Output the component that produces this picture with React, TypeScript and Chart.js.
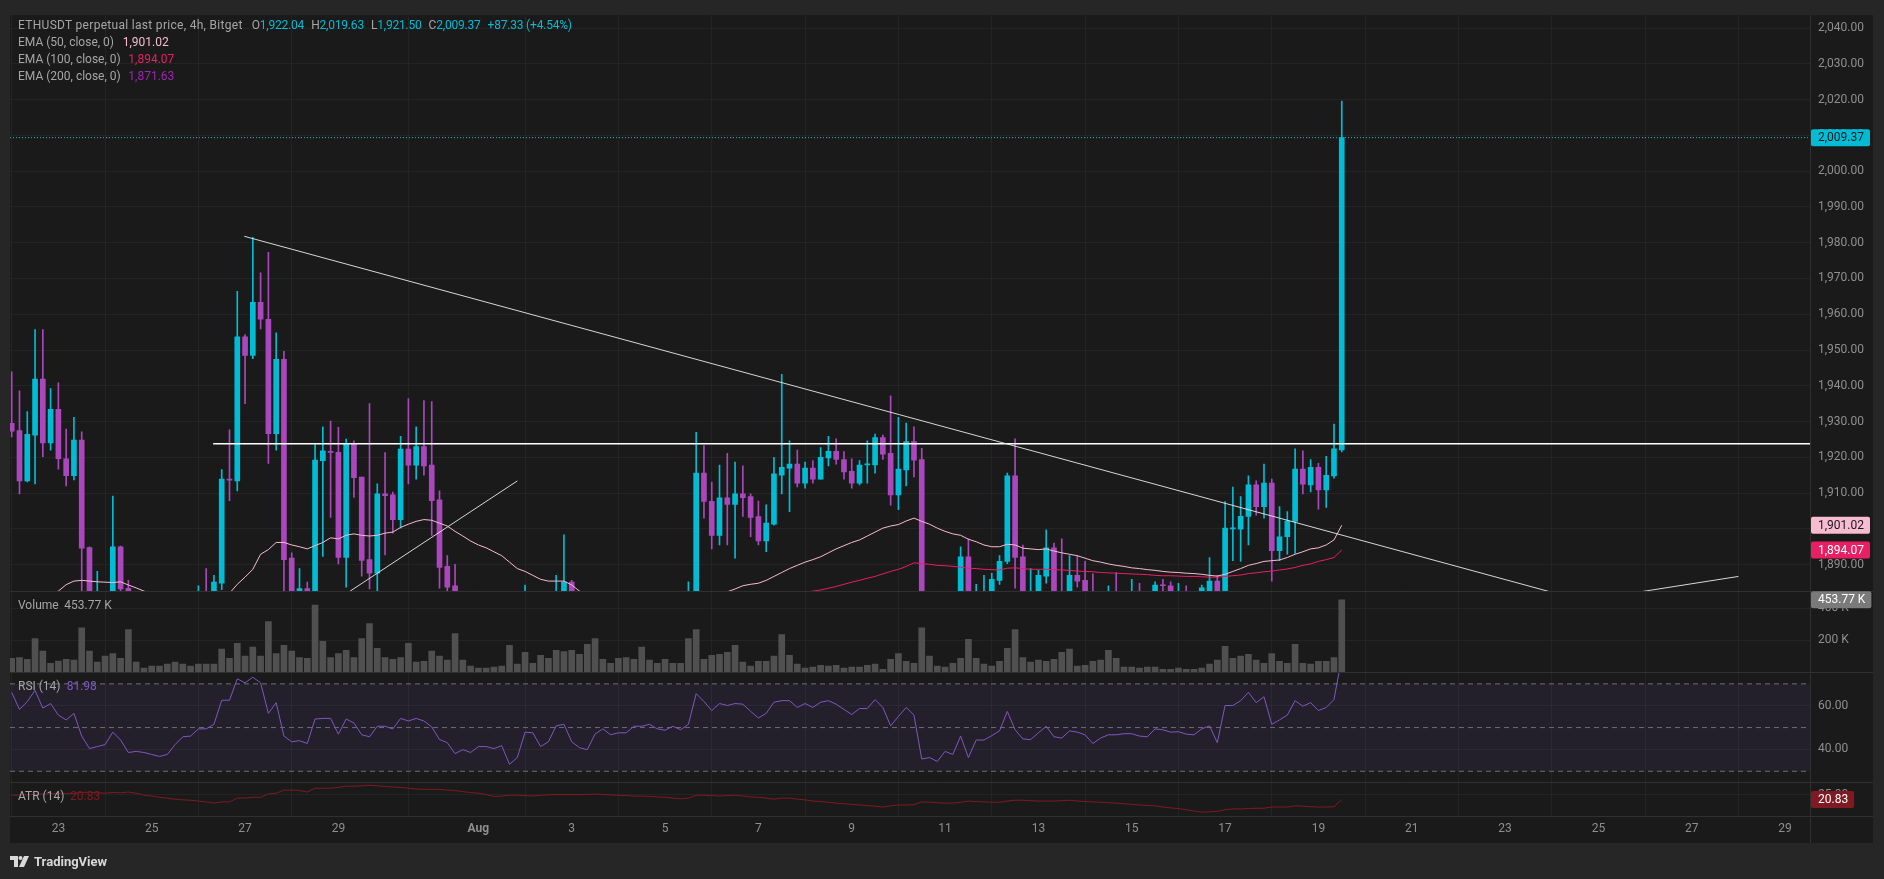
import React, { useEffect, useRef } from "react";
import { Chart, registerables } from "chart.js";

Chart.register(...registerables);

// ETHUSDT perpetual, 4h candles. Bar 0 = 22 Jul 2023 00:00, one bar every 4 hours.
const OPEN = [
  1929.5, 1927.5, 1913.4, 1926.2, 1941.9, 1924.0, 1933.4, 1919.6, 1914.9, 1924.8,
  1894.8, 1871.0, 1880.0, 1870.0, 1895.0, 1883.4, 1876, 1872, 1866, 1870,
  1865, 1862, 1869, 1874, 1876, 1879, 1877, 1884.8, 1913.9, 1913.4,
  1953.7, 1948.5, 1963.3, 1958.6, 1926.6, 1947.4, 1891.8, 1878.0, 1883.3, 1880.0,
  1919.1, 1921.7, 1921.4, 1892.0, 1923.8, 1914.5, 1891.4, 1887.6, 1909.8, 1909.5,
  1902.6, 1922.3, 1917.8, 1923.0, 1917.8, 1908.1, 1889.5, 1884.1, 1872, 1864,
  1856, 1848, 1853, 1860, 1856, 1838, 1844, 1872, 1870, 1858,
  1864, 1876, 1885.1, 1872, 1864, 1856, 1868, 1872, 1868, 1870,
  1871, 1874, 1875, 1876, 1873, 1872, 1876, 1874, 1879, 1915.6,
  1907.7, 1898.2, 1908.7, 1906.8, 1909.8, 1909.0, 1903.4, 1896.6, 1901.3, 1915.0,
  1917.0, 1918.1, 1912.8, 1917.0, 1913.9, 1919.8, 1921.7, 1919.4, 1916.1, 1912.8,
  1917.9, 1917.9, 1925.5, 1921.1, 1909.5, 1916.5, 1924.4, 1919.4, 1855, 1852,
  1849, 1856, 1853, 1892.2, 1856, 1868, 1870, 1885.6, 1890.9, 1914.8,
  1892.2, 1876, 1880, 1886.8, 1894.7, 1876, 1874, 1887.0, 1885.6, 1878,
  1874, 1876, 1878, 1877, 1878, 1879, 1876, 1878, 1884.3, 1884.1,
  1879, 1880, 1877, 1878, 1882.0, 1885.4, 1872, 1900.0, 1899.9, 1903.5,
  1912.3, 1906.2, 1912.8, 1893.9, 1897.8, 1902.1, 1916.7, 1912.3, 1917.2, 1910.9,
  1914.8, 1922.04,
];
const HIGH = [
  1943.9, 1938.6, 1932.8, 1955.7, 1955.7, 1939.2, 1940.8, 1927.9, 1931.2, 1927.1,
  1895.0, 1888.1, 1881.5, 1909.2, 1895.2, 1885.6, 1881, 1878, 1874, 1876,
  1871, 1872, 1878, 1880, 1884.1, 1888.9, 1887.0, 1916.6, 1927.7, 1966.4,
  1954.3, 1981.5, 1971.6, 1977.3, 1954.8, 1949.6, 1893.3, 1888.9, 1885.1, 1923.8,
  1928.5, 1930.1, 1928.4, 1925.1, 1924.6, 1914.5, 1935.0, 1912.6, 1921.3, 1910.3,
  1925.9, 1936.4, 1928.5, 1935.9, 1935.6, 1910.6, 1892.5, 1890.1, 1878, 1870,
  1862, 1858, 1866, 1868, 1860, 1848, 1884.3, 1878, 1874, 1868,
  1887.0, 1898.3, 1885.6, 1876, 1868, 1872, 1876, 1876, 1874, 1876,
  1878, 1880, 1880, 1880, 1878, 1880, 1880, 1885.2, 1927.0, 1923.3,
  1913.1, 1917.8, 1921.1, 1918.7, 1917.6, 1909.8, 1907.8, 1906.7, 1920.0, 1943.2,
  1924.6, 1922.0, 1918.7, 1919.1, 1922.7, 1925.9, 1925.2, 1921.6, 1919.6, 1919.1,
  1924.6, 1926.5, 1926.2, 1937.2, 1931.2, 1929.6, 1928.5, 1922.5, 1862, 1858,
  1860, 1860, 1895.0, 1897.2, 1884.5, 1887.0, 1887.6, 1892.5, 1915.6, 1925.2,
  1895.5, 1888.9, 1888.5, 1899.7, 1896.0, 1897.2, 1892.5, 1892.5, 1890.9, 1887.4,
  1880, 1884.1, 1887.8, 1881, 1885.9, 1884.8, 1880, 1885.2, 1885.9, 1885.2,
  1884.8, 1884.1, 1881, 1884.3, 1892.0, 1887.0, 1907.6, 1911.7, 1909.0, 1914.8,
  1913.4, 1918.1, 1913.9, 1906.2, 1904.8, 1922.4, 1921.8, 1919.4, 1918.3, 1920.3,
  1929.3, 2019.63,
];
const LOW = [
  1925.7, 1909.8, 1913.1, 1912.6, 1920.2, 1922.0, 1916.7, 1912.0, 1913.7, 1878.0,
  1866.0, 1867.0, 1866.0, 1866.0, 1878.0, 1870.0, 1868, 1862, 1860, 1863,
  1858, 1860, 1866, 1869, 1872, 1874, 1874, 1883.0, 1907.9, 1910.6,
  1935.0, 1947.6, 1955.9, 1918.3, 1922.0, 1878.0, 1872.0, 1874.0, 1874.0, 1876.0,
  1892.3, 1903.2, 1890.2, 1883.7, 1908.8, 1886.8, 1883.2, 1880.0, 1892.7, 1898.8,
  1900.2, 1912.6, 1913.9, 1915.0, 1898.2, 1883.4, 1880.0, 1868.0, 1860, 1850,
  1842, 1840, 1848, 1852, 1825, 1830, 1840, 1862, 1852, 1854,
  1860, 1870, 1868, 1860, 1850, 1852, 1862, 1864, 1860, 1864,
  1866, 1868, 1870, 1870, 1868, 1868, 1870, 1870, 1876, 1903.0,
  1894.4, 1895.5, 1895.5, 1891.8, 1903.5, 1897.8, 1895.5, 1893.6, 1901.0, 1909.8,
  1904.8, 1911.7, 1911.4, 1912.8, 1913.9, 1917.6, 1918.1, 1913.9, 1911.4, 1912.3,
  1912.8, 1915.6, 1919.4, 1906.6, 1905.4, 1912.0, 1914.5, 1846, 1848, 1845,
  1846, 1850, 1850, 1850, 1852, 1864, 1866, 1884.5, 1890.3, 1883.4,
  1872, 1870, 1876, 1884.8, 1872, 1870, 1870, 1883.7, 1872, 1870,
  1868, 1872, 1872, 1872, 1874, 1872, 1872, 1874, 1878, 1876,
  1876, 1874, 1872, 1876, 1878, 1866, 1870, 1891.1, 1890.9, 1895.5,
  1903.8, 1903.0, 1885.4, 1891.1, 1892.9, 1893.1, 1909.8, 1910.3, 1905.5, 1906.0,
  1914.2, 1921.5,
];
const CLOSE = [
  1927.3, 1913.4, 1926.4, 1941.9, 1924.0, 1933.4, 1919.6, 1914.9, 1924.8, 1894.6,
  1871.0, 1880.0, 1870.0, 1895.0, 1883.2, 1876, 1872, 1866, 1870, 1865,
  1862, 1869, 1874, 1876, 1879, 1877, 1885.1, 1913.9, 1913.6, 1953.7,
  1948.5, 1963.3, 1958.6, 1926.6, 1947.4, 1891.4, 1878.0, 1883.3, 1880.0, 1919.2,
  1921.8, 1921.4, 1892.0, 1923.8, 1914.3, 1891.2, 1887.6, 1909.8, 1909.3, 1902.6,
  1922.3, 1917.8, 1923.0, 1917.6, 1907.9, 1889.2, 1883.7, 1872, 1864, 1856,
  1848, 1853, 1860, 1856, 1838, 1844, 1872, 1870, 1858, 1864,
  1876, 1885.1, 1872, 1864, 1856, 1868, 1872, 1868, 1870, 1871,
  1874, 1875, 1876, 1873, 1872, 1876, 1874, 1879, 1915.6, 1907.7,
  1898.2, 1908.7, 1906.8, 1909.8, 1908.7, 1903.2, 1896.6, 1901.6, 1915.4, 1917.2,
  1918.1, 1912.8, 1917.0, 1913.9, 1920.0, 1921.7, 1919.4, 1915.9, 1912.8, 1917.8,
  1918.1, 1925.5, 1920.9, 1909.5, 1916.7, 1924.4, 1919.2, 1855, 1852, 1849,
  1856, 1853, 1892.2, 1856, 1868, 1870, 1885.9, 1890.9, 1914.8, 1892.0,
  1878, 1880, 1887.0, 1894.7, 1876, 1874, 1887.0, 1885.4, 1878, 1874,
  1876, 1878, 1877, 1878, 1879, 1876, 1878, 1884.3, 1884.1, 1879,
  1880, 1877, 1878, 1883.5, 1885.4, 1872, 1900.2, 1900.3, 1903.5, 1912.3,
  1906.2, 1912.8, 1893.9, 1897.8, 1902.2, 1916.7, 1912.5, 1917.2, 1910.9, 1915.0,
  1922.4, 2009.37,
];
// volume in thousands
const VOLUME_K = [
  86, 91, 79, 210, 131, 54, 69, 79, 74, 277,
  131, 62, 99, 116, 86, 267, 62, 25, 37, 37,
  49, 62, 49, 37, 49, 49, 49, 143, 86, 180,
  99, 156, 99, 316, 116, 168, 131, 91, 86, 420,
  193, 91, 116, 136, 91, 210, 304, 148, 91, 79,
  91, 180, 62, 67, 131, 99, 74, 242, 74, 37,
  25, 25, 30, 37, 168, 49, 124, 54, 104, 86,
  136, 128, 136, 111, 173, 210, 79, 54, 86, 91,
  79, 156, 74, 54, 79, 54, 54, 210, 267, 79,
  104, 111, 124, 168, 62, 37, 67, 67, 99, 235,
  104, 49, 25, 30, 42, 37, 42, 25, 30, 30,
  42, 49, 17, 79, 116, 67, 54, 277, 99, 37,
  30, 54, 86, 205, 86, 49, 37, 67, 148, 267,
  91, 62, 74, 67, 79, 124, 143, 37, 42, 67,
  74, 136, 86, 30, 30, 25, 30, 30, 17, 17,
  25, 17, 17, 25, 49, 74, 161, 86, 99, 111,
  74, 54, 116, 67, 54, 173, 54, 49, 67, 67,
  91, 453.77,
];
const RSI14 = [
  66.1, 58.3, 61.9, 67.0, 58.9, 61.0, 55.7, 53.5, 56.5, 46.1,
  40.4, 41.3, 42.2, 47.9, 44.3, 38.6, 39.1, 38.6, 37.7, 36.8,
  37.7, 42.2, 45.8, 46.1, 49.4, 49.4, 51.5, 62.5, 62.5, 72.3,
  70.5, 73.0, 70.5, 56.5, 61.4, 46.1, 43.5, 44.0, 42.7, 53.9,
  54.2, 54.2, 47.0, 53.9, 52.1, 46.7, 45.8, 50.6, 50.6, 49.4,
  54.2, 53.0, 54.2, 53.0, 50.3, 44.5, 43.1, 38.1, 39.9, 38.6,
  41.3, 41.3, 40.4, 41.7, 33.2, 36.3, 47.9, 47.6, 41.3, 43.5,
  50.8, 51.5, 43.5, 40.8, 39.9, 47.0, 49.4, 46.7, 47.6, 47.6,
  50.6, 50.6, 51.5, 49.4, 48.8, 50.6, 49.0, 51.5, 65.5, 61.9,
  57.8, 61.0, 60.1, 61.0, 60.7, 57.4, 54.4, 56.5, 61.6, 62.3,
  62.3, 59.2, 61.0, 59.2, 61.6, 62.3, 60.7, 58.3, 56.0, 58.7,
  58.7, 62.8, 59.2, 50.8, 55.1, 59.2, 55.7, 35.6, 36.3, 34.5,
  39.1, 37.7, 46.1, 36.3, 44.3, 44.3, 46.3, 48.5, 57.4, 49.0,
  44.8, 44.5, 47.6, 50.6, 45.8, 45.2, 48.5, 47.9, 46.7, 42.7,
  45.2, 46.7, 46.7, 47.2, 47.2, 46.1, 45.8, 49.4, 49.0, 47.9,
  48.1, 47.0, 46.7, 49.4, 50.8, 43.1, 60.1, 60.1, 62.3, 66.1,
  61.4, 64.1, 51.5, 53.5, 55.7, 62.3, 59.8, 61.4, 57.8, 59.2,
  62.8, 81.98,
];
const ATR14 = [
  24.5, 24.7, 24.8, 25.3, 25.5, 25.8, 26.2, 26.0, 26.1, 26.9,
  27.0, 26.5, 26.3, 26.8, 26.5, 27.2, 26.2, 24.5, 23.8, 22.8,
  22.1, 21.2, 20.6, 20.3, 19.6, 18.9, 17.9, 18.9, 18.9, 22.1,
  22.1, 22.8, 22.8, 25.5, 26.2, 28.8, 28.8, 28.5, 27.2, 30.4,
  30.4, 30.4, 31.1, 32.1, 32.1, 32.4, 32.8, 32.4, 31.8, 31.4,
  31.1, 30.4, 29.7, 29.4, 29.4, 29.4, 28.8, 28.5, 27.5, 26.8,
  26.2, 25.1, 23.5, 23.8, 24.5, 24.5, 24.2, 23.8, 24.5, 24.8,
  25.1, 25.1, 25.1, 25.1, 25.1, 25.5, 25.1, 24.8, 24.5, 24.2,
  23.8, 23.8, 23.5, 23.1, 22.8, 22.1, 21.5, 22.1, 24.5, 24.5,
  24.2, 23.8, 24.2, 24.5, 23.8, 23.1, 22.8, 22.1, 21.2, 22.1,
  22.1, 21.2, 20.6, 19.6, 19.2, 18.6, 17.9, 17.3, 16.9, 16.3,
  15.9, 15.3, 14.6, 15.6, 16.3, 16.3, 16.6, 18.9, 18.6, 18.2,
  17.9, 17.9, 18.6, 19.6, 19.2, 18.9, 18.6, 18.6, 19.6, 20.3,
  20.3, 19.9, 19.6, 19.6, 19.6, 19.9, 20.3, 19.6, 19.2, 18.9,
  18.6, 18.2, 17.9, 17.3, 16.9, 16.3, 15.9, 15.6, 14.6, 13.9,
  13.3, 12.3, 11.3, 10.3, 10.6, 11.0, 12.3, 13.0, 13.0, 13.3,
  13.6, 13.6, 14.6, 14.6, 14.6, 15.6, 15.3, 14.9, 14.6, 14.6,
  14.9, 20.83,
];
const EMA50 = [
  1878.5, 1879.0, 1879.6, 1880.4, 1881.2, 1882.0, 1882.6, 1884.4, 1885.4, 1885.6,
  1885.4, 1885.2, 1885.1, 1885.0, 1885.2, 1884.3, 1883.5, 1882.6, 1882.0, 1881.4,
  1880.8, 1880.2, 1879.8, 1879.4, 1879.3, 1879.2, 1879.4, 1880.8, 1882.0, 1884.5,
  1886.5, 1888.7, 1892.9, 1894.2, 1896.2, 1896.2, 1895.5, 1895.0, 1894.4, 1895.3,
  1896.2, 1897.5, 1897.2, 1898.2, 1898.6, 1898.2, 1898.0, 1898.2, 1898.8, 1899.1,
  1900.4, 1901.3, 1902.1, 1902.6, 1902.4, 1901.6, 1900.8, 1899.3, 1898.0, 1896.6,
  1895.5, 1894.7, 1893.6, 1892.5, 1890.7, 1888.9, 1888.1, 1887.0, 1885.9, 1885.4,
  1885.4, 1885.4, 1884.3, 1882.6, 1881.8, 1881.2, 1880.8, 1880.4, 1880.0, 1879.7,
  1879.4, 1879.2, 1879.0, 1878.8, 1878.6, 1878.4, 1878.2, 1878.0, 1879.5, 1880.5,
  1881.2, 1881.8, 1882.4, 1883.2, 1884.1, 1884.5, 1884.8, 1885.6, 1886.7, 1887.8,
  1888.9, 1889.8, 1890.7, 1891.4, 1892.2, 1893.3, 1894.4, 1895.3, 1896.2, 1896.9,
  1898.0, 1899.1, 1900.2, 1900.8, 1901.2, 1902.2, 1903.0, 1902.1, 1901.3, 1900.2,
  1899.3, 1898.6, 1898.2, 1897.1, 1896.4, 1895.5, 1895.0, 1895.0, 1895.7, 1895.5,
  1894.6, 1894.4, 1894.2, 1894.4, 1893.8, 1893.3, 1892.9, 1892.5, 1891.8, 1891.1,
  1890.7, 1890.2, 1889.8, 1889.5, 1889.1, 1888.9, 1888.6, 1888.4, 1888.1, 1887.9,
  1887.8, 1887.6, 1887.5, 1887.3, 1887.0, 1886.8, 1887.3, 1888.1, 1888.9, 1889.8,
  1890.3, 1890.9, 1891.1, 1891.3, 1892.0, 1892.9, 1893.6, 1894.4, 1894.7, 1895.5,
  1896.9, 1901.02,
];
// EMA 100 values from bar 102 onward (earlier values lie below the visible range)
const EMA100_FROM = 102;
const EMA100 = [
  1882.3, 1882.6, 1882.9, 1883.4, 1883.9, 1884.5, 1885.1, 1885.6,
  1886.2, 1886.7, 1887.4, 1888.1, 1888.7, 1889.5, 1890.5, 1890.3, 1890.1, 1889.8,
  1889.7, 1889.5, 1889.3, 1889.0, 1888.9, 1888.7, 1888.6, 1888.5, 1889.0, 1889.1,
  1888.9, 1888.7, 1888.7, 1888.7, 1888.6, 1888.5, 1888.4, 1888.2, 1888.1, 1888.0,
  1887.8, 1887.7, 1887.6, 1887.5, 1887.4, 1887.3, 1887.2, 1887.0, 1886.9, 1886.9,
  1886.8, 1886.7, 1886.7, 1886.6, 1886.5, 1886.5, 1886.7, 1886.9, 1887.1, 1887.5,
  1887.7, 1888.0, 1888.2, 1888.5, 1888.8, 1889.2, 1889.8, 1890.2, 1890.9, 1891.4,
  1892.0, 1894.07,
];
const EMA200_LAST = 1871.63;
const LAST = { open: 1922.04, high: 2019.63, low: 1921.5, close: 2009.37, change: 87.33, pct: 4.54 };

// time axis (bar index of each day label)
const TICK_BARS = [6, 18, 30, 42, 60, 72, 84, 96, 108, 120, 132, 144, 156, 168, 180, 192, 204, 216, 228];
const TICK_LABELS = ["23", "25", "27", "29", "Aug", "3", "5", "7", "9", "11", "13", "15", "17", "19", "21", "23", "25", "27", "29"];
const PRICE_TICKS = [1890, 1900, 1910, 1920, 1930, 1940, 1950, 1960, 1970, 1980, 1990, 2000, 2010, 2020, 2030, 2040];
const VOLUME_TICKS = [200, 400];
const RSI_TICKS = [40, 60];
const RSI_LEVELS = [70, 50, 30];
const ATR_TICKS = [25];

// drawings: [bar, price]
const TREND_DOWN = [[29.9, 1981.8], [226, 1865.7]];
const TREND_UP = [[38, 1874.7], [65.0, 1913.4]];
const TREND_UP_RIGHT = [[200, 1879.2], [222.0, 1886.7]];
const RESISTANCE = { from: 25.9, price: 1923.8 };

const X_MIN = -0.22;
const X_MAX = 231.2;

const FONT = "Roboto, 'Noto Sans', 'DejaVu Sans', sans-serif";
const UP = "#00bcd4";
const DOWN = "#ab47bc";
const GRID = "#242424";
const SEP = "#303030";
const AXIS_TEXT = "#8f8f8f";
const LEGEND_TEXT = "#a6a6a6";

const fmt2 = (v: number) => v.toLocaleString("en-US", { minimumFractionDigits: 2, maximumFractionDigits: 2 });

function yAxis(weight: number, min: number, max: number, ticks: number[], label: (v: number) => string) {
  return {
    type: "linear",
    position: "right",
    stack: "panes",
    stackWeight: weight,
    min,
    max,
    grid: { color: GRID, drawTicks: false },
    border: { display: false },
    ticks: { color: AXIS_TEXT, font: { family: FONT, size: 12 }, padding: 8, callback: (v: any) => label(Number(v)) },
    afterBuildTicks: (s: any) => {
      s.ticks = ticks.map((v) => ({ value: v }));
    },
    afterFit: (s: any) => {
      s.width = 63;
    },
  };
}

function roundRect(ctx: CanvasRenderingContext2D, x: number, y: number, w: number, h: number, r: number) {
  ctx.beginPath();
  ctx.moveTo(x + r, y);
  ctx.lineTo(x + w - r, y);
  ctx.quadraticCurveTo(x + w, y, x + w, y + r);
  ctx.lineTo(x + w, y + h - r);
  ctx.quadraticCurveTo(x + w, y + h, x + w - r, y + h);
  ctx.lineTo(x + r, y + h);
  ctx.quadraticCurveTo(x, y + h, x, y + h - r);
  ctx.lineTo(x, y + r);
  ctx.quadraticCurveTo(x, y, x + r, y);
  ctx.closePath();
}

const framePlugin = {
  id: "tvFrame",
  beforeDraw(chart: any) {
    const { ctx, width, height } = chart;
    const s = chart.scales;
    ctx.save();
    ctx.fillStyle = "#262626";
    ctx.fillRect(0, 0, width, height);
    ctx.fillStyle = "#1a1a1a";
    ctx.fillRect(chart.chartArea.left, chart.chartArea.top, s.y.right - chart.chartArea.left, s.x.bottom - chart.chartArea.top);
    ctx.restore();
  },
  afterDraw(chart: any) {
    const { ctx } = chart;
    const s = chart.scales;
    const left = chart.chartArea.left;
    const right = s.y.right;
    ctx.save();
    ctx.strokeStyle = SEP;
    ctx.lineWidth = 1;
    ctx.beginPath();
    [s.y.bottom, s.yv.bottom, s.yr.bottom, s.ya.bottom].forEach((yy: number) => {
      const py = Math.round(yy) + 0.5;
      ctx.moveTo(left, py);
      ctx.lineTo(right, py);
    });
    const px = Math.round(s.y.left) + 0.5;
    ctx.moveTo(px, chart.chartArea.top);
    ctx.lineTo(px, s.x.bottom);
    ctx.stroke();

    const badges = [
      { axis: "y", value: CLOSE[CLOSE.length - 1], text: fmt2(CLOSE[CLOSE.length - 1]), bg: UP, fg: "#131722" },
      { axis: "y", value: EMA50[EMA50.length - 1], text: fmt2(EMA50[EMA50.length - 1]), bg: "#f8bbd0", fg: "#131722" },
      { axis: "y", value: EMA100[EMA100.length - 1], text: fmt2(EMA100[EMA100.length - 1]), bg: "#e91e63", fg: "#ffffff" },
      { axis: "yv", value: VOLUME_K[VOLUME_K.length - 1], text: VOLUME_K[VOLUME_K.length - 1].toFixed(2) + " K", bg: "#7a7a7a", fg: "#ffffff" },
      { axis: "ya", value: ATR14[ATR14.length - 1], text: ATR14[ATR14.length - 1].toFixed(2), bg: "#801922", fg: "#ffffff" },
    ];
    ctx.font = `12px ${FONT}`;
    ctx.textBaseline = "middle";
    ctx.textAlign = "left";
    badges.forEach((b) => {
      const y = s[b.axis].getPixelForValue(b.value);
      const w = ctx.measureText(b.text).width + 13;
      const x0 = s.y.left + 1;
      ctx.fillStyle = b.bg;
      roundRect(ctx, x0, y - 8.5, w, 17, 2);
      ctx.fill();
      ctx.fillStyle = b.fg;
      ctx.fillText(b.text, x0 + 7, y + 0.5);
    });
    ctx.restore();
  },
};

export default function App() {
  const ref = useRef<HTMLCanvasElement | null>(null);

  useEffect(() => {
    const canvas = ref.current;
    if (!canvas) return;
    const idx = CLOSE.map((_, i) => i);
    const candleColors = idx.map((i) => (CLOSE[i] >= OPEN[i] ? UP : DOWN));
    const line = (pts: number[][]) => pts.map(([x, y]) => ({ x, y }));

    const datasets: any[] = [
      {
        type: "line",
        label: "last price",
        yAxisID: "y",
        data: [{ x: X_MIN, y: LAST.close }, { x: X_MAX, y: LAST.close }],
        borderColor: UP,
        borderWidth: 1,
        borderDash: [1, 2],
        pointRadius: 0,
        order: 0,
      },
      {
        type: "line",
        label: "trend down",
        yAxisID: "y",
        data: line(TREND_DOWN),
        borderColor: "rgba(235,235,235,0.9)",
        borderWidth: 1,
        pointRadius: 0,
        order: 1,
      },
      {
        type: "line",
        label: "trend up",
        yAxisID: "y",
        data: line(TREND_UP),
        borderColor: "rgba(235,235,235,0.9)",
        borderWidth: 1,
        pointRadius: 0,
        order: 1,
      },
      {
        type: "line",
        label: "trend up right",
        yAxisID: "y",
        data: line(TREND_UP_RIGHT),
        borderColor: "rgba(235,235,235,0.9)",
        borderWidth: 1,
        pointRadius: 0,
        order: 1,
      },
      {
        type: "line",
        label: "resistance",
        yAxisID: "y",
        data: [{ x: RESISTANCE.from, y: RESISTANCE.price }, { x: X_MAX, y: RESISTANCE.price }],
        borderColor: "#ffffff",
        borderWidth: 1.3,
        pointRadius: 0,
        order: 1,
      },
      {
        type: "line",
        label: "EMA 50",
        yAxisID: "y",
        data: EMA50.map((v, i) => ({ x: i, y: v })),
        borderColor: "#f8bbd0",
        borderWidth: 1,
        pointRadius: 0,
        order: 2,
      },
      {
        type: "line",
        label: "EMA 100",
        yAxisID: "y",
        data: EMA100.map((v, i) => ({ x: EMA100_FROM + i, y: v })),
        borderColor: "#e91e63",
        borderWidth: 1,
        pointRadius: 0,
        order: 2,
      },
      {
        type: "bar",
        label: "bodies",
        yAxisID: "y",
        data: idx.map((i) => ({ x: i, y: [Math.min(OPEN[i], CLOSE[i]), Math.max(OPEN[i], CLOSE[i])] })),
        backgroundColor: candleColors,
        barThickness: 5,
        minBarLength: 1,
        grouped: false,
        clip: 0,
        order: 3,
      },
      {
        type: "bar",
        label: "wicks",
        yAxisID: "y",
        data: idx.map((i) => ({ x: i, y: [LOW[i], HIGH[i]] })),
        backgroundColor: candleColors,
        barThickness: 1,
        grouped: false,
        clip: 0,
        order: 4,
      },
      {
        type: "bar",
        label: "Volume",
        yAxisID: "yv",
        data: idx.map((i) => ({ x: i, y: VOLUME_K[i] })),
        backgroundColor: "#505050",
        barThickness: 6,
        grouped: false,
        clip: 0,
        order: 5,
      },
      {
        type: "line",
        label: "RSI",
        yAxisID: "yr",
        data: RSI14.map((v, i) => ({ x: i, y: v })),
        borderColor: "#7e57c2",
        borderWidth: 1,
        pointRadius: 0,
        order: 2,
      },
      ...RSI_LEVELS.map((lv, k) => ({
        type: "line",
        label: "RSI level " + lv,
        yAxisID: "yr",
        data: [{ x: X_MIN, y: lv }, { x: X_MAX, y: lv }],
        borderColor: "#6e6e6e",
        borderWidth: 1,
        borderDash: [5, 4],
        pointRadius: 0,
        fill: k === 0 ? { value: RSI_LEVELS[RSI_LEVELS.length - 1] } : false,
        backgroundColor: "rgba(126,87,194,0.1)",
        order: 8,
      })),
      {
        type: "line",
        label: "ATR",
        yAxisID: "ya",
        data: ATR14.map((v, i) => ({ x: i, y: v })),
        borderColor: "#801922",
        borderWidth: 1,
        pointRadius: 0,
        order: 2,
      },
    ];

    const chart = new Chart(canvas, {
      type: "bar",
      data: { datasets },
      plugins: [framePlugin],
      options: {
        animation: false,
        responsive: false,
        events: [],
        layout: { padding: { left: 10, top: 10, right: 11, bottom: 36 }, autoPadding: false },
        plugins: { legend: { display: false }, tooltip: { enabled: false } },
        scales: {
          x: {
            type: "linear",
            min: X_MIN,
            max: X_MAX,
            offset: false,
            grid: { color: GRID, drawTicks: false },
            border: { display: false },
            ticks: {
              color: AXIS_TEXT,
              padding: 6,
              maxRotation: 0,
              autoSkip: false,
              font: (c: any) => ({ family: FONT, size: 12, weight: c.tick && c.tick.value === 60 ? "bold" : "normal" }),
              callback: (v: any) => {
                const k = TICK_BARS.indexOf(Number(v));
                return k >= 0 ? TICK_LABELS[k] : "";
              },
            },
            afterBuildTicks: (s: any) => {
              s.ticks = TICK_BARS.map((v) => ({ value: v }));
            },
            afterFit: (s: any) => {
              s.height = 27;
            },
          },
          y: yAxis(580, 1882.5, 2043.61, PRICE_TICKS, fmt2),
          yv: yAxis(81, 0, 506.25, VOLUME_TICKS, (v) => `${v} K`),
          yr: yAxis(111, 25, 75.45, RSI_TICKS, fmt2),
          ya: yAxis(34, 7.08, 35.42, ATR_TICKS, fmt2),
        } as any,
      } as any,
    });
    return () => chart.destroy();
  }, []);

  const base: React.CSSProperties = {
    position: "absolute",
    fontFamily: FONT,
    fontSize: 12,
    lineHeight: "17px",
    color: LEGEND_TEXT,
    whiteSpace: "nowrap",
  };
  const at = (left: number, top: number, color?: string): React.CSSProperties => ({ ...base, left, top, ...(color ? { color } : {}) });
  const grp: React.CSSProperties = { marginLeft: 7, letterSpacing: "-0.2px" };
  const cyan = { color: UP };

  return (
    <div style={{ position: "fixed", left: 0, top: 0, width: 1884, height: 879, background: "#262626", overflow: "hidden" }}>
      <canvas ref={ref} width={1884} height={879} style={{ position: "absolute", left: 0, top: 0, width: 1884, height: 879 }} />
      <div style={{ ...at(18, 16.5), display: "flex" }}>
        <span style={{ letterSpacing: "0.3px" }}>ETHUSDT perpetual last price, 4h, Bitget</span>
        <span style={{ ...grp, marginLeft: 9 }}>O<span style={cyan}>{fmt2(LAST.open)}</span></span>
        <span style={grp}>H<span style={cyan}>{fmt2(LAST.high)}</span></span>
        <span style={grp}>L<span style={cyan}>{fmt2(LAST.low)}</span></span>
        <span style={grp}>C<span style={cyan}>{fmt2(LAST.close)}</span></span>
        <span style={{ ...grp, ...cyan }}>{`+${fmt2(LAST.change)} (+${fmt2(LAST.pct)}%)`}</span>
      </div>

      <div style={at(18, 33.8)}>EMA (50, close, 0)</div>
      <div style={at(122.7, 33.8, "#f8bbd0")}>{fmt2(EMA50[EMA50.length - 1])}</div>
      <div style={at(18, 50.8)}>EMA (100, close, 0)</div>
      <div style={at(128.3, 50.8, "#e91e63")}>{fmt2(EMA100[EMA100.length - 1])}</div>
      <div style={at(18, 67.5)}>EMA (200, close, 0)</div>
      <div style={at(128.3, 67.5, "#9c27b0")}>{fmt2(EMA200_LAST)}</div>

      <div style={at(18, 597)}>Volume</div>
      <div style={at(64.3, 597)}>{VOLUME_K[VOLUME_K.length - 1].toFixed(2) + " K"}</div>
      <div style={at(18, 678)}>RSI (14)</div>
      <div style={at(66.7, 678, "#7e57c2")}>{RSI14[RSI14.length - 1].toFixed(2)}</div>
      <div style={at(18, 788)}>ATR (14)</div>
      <div style={at(70, 788, "#801922")}>{ATR14[ATR14.length - 1].toFixed(2)}</div>

      <div
        style={{
          position: "absolute",
          left: 10,
          top: 853,
          display: "flex",
          alignItems: "center",
          gap: 5,
          color: "#d9d9d9",
          fontFamily: FONT,
          fontSize: 13,
          fontWeight: 700,
          lineHeight: "17px",
        }}
      >
        <svg width="19" height="11" viewBox="0 0 19 11">
          <path d="M0 0h8v11h-4v-7h-4z" fill="#d9d9d9" />
          <circle cx="10.5" cy="2" r="2" fill="#d9d9d9" />
          <path d="M14 0h5l-5 11h-5z" fill="#d9d9d9" />
        </svg>
        <span>TradingView</span>
      </div>
    </div>
  );
}
